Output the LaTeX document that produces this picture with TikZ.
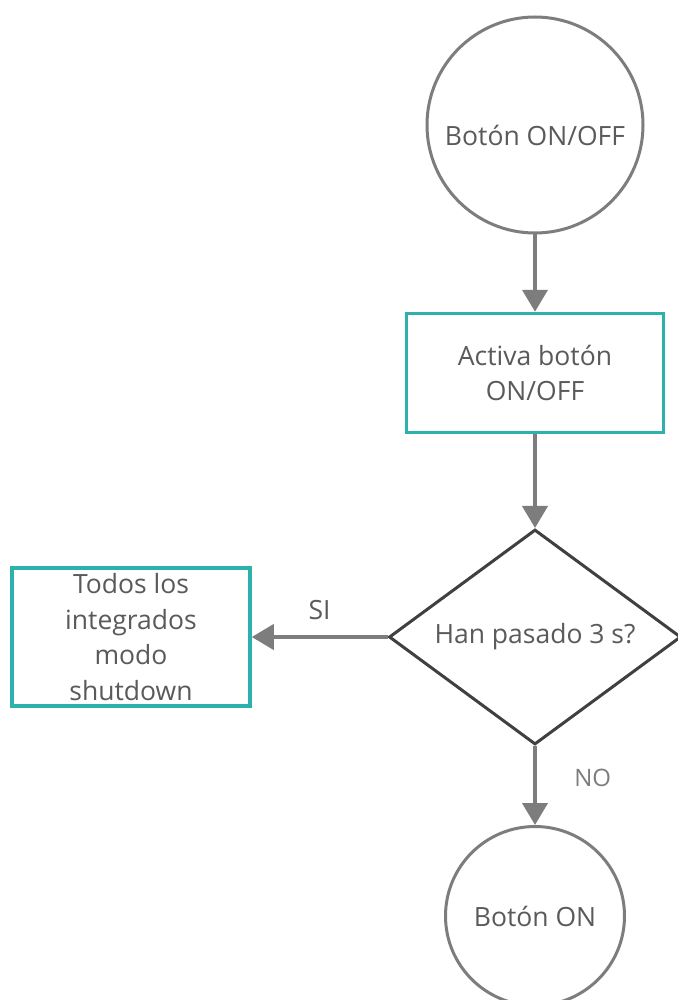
\documentclass[tikz,border=0pt]{standalone}
\usepackage{fontspec}
\setmainfont{Open Sans}
\usetikzlibrary{positioning,arrows.meta}
\usetikzlibrary{shapes.geometric}

\definecolor{flowteal}{HTML}{2CB1AC}
\definecolor{flowgray}{HTML}{7D7D7D}
\definecolor{flowdark}{HTML}{404040}
\definecolor{flowtext}{HTML}{5A5A5A}

\tikzset{
  terminal/.style={circle,draw=flowgray,line width=3pt,inner sep=0pt},
  process/.style={rectangle,draw=flowteal,line width=3.5pt,inner sep=0pt},
  decision/.style={diamond,draw=flowdark,line width=3pt,inner sep=0pt},
  flow/.style={draw=flowgray,line width=4pt,-{Triangle[length=22pt,width=25pt]}}
}

\begin{document}
\begin{tikzpicture}[x=1pt,y=-1pt,
    every node/.style={text=flowtext,font=\fontsize{26.5}{35.5}\selectfont,align=center}]
  \useasboundingbox[fill=white] (0,0) rectangle (677,1000);
  % nodos
  \node[terminal,minimum size=216pt,text height=42pt] (inicio) at (535,125) {Botón ON/OFF};
  \node[process,minimum width=257pt,minimum height=119pt] (activa) at (535,373) {Activa botón\\ON/OFF};
  \node[decision,minimum width=292pt,minimum height=215pt,label=center:{Han pasado 3 s?}] (espera) at (535,637) {};
  \node[process,minimum width=238pt,minimum height=138pt] (apagado) at (131,637) {Todos los\\integrados\\modo\\shutdown};
  \node[terminal,minimum size=179pt] (encendido) at (535,916) {Botón ON};
  % flechas
  \draw[flow] (inicio) -- (activa);
  \draw[flow] (activa) -- (espera);
  \draw[flow] (espera.west) -- node[above=12pt] {SI} (apagado.east);
  \draw[flow] (espera) -- node[pos=0.4,right=34pt,font=\fontsize{24}{28}\selectfont,text=flowgray] {NO} (encendido);
\end{tikzpicture}
\end{document}
